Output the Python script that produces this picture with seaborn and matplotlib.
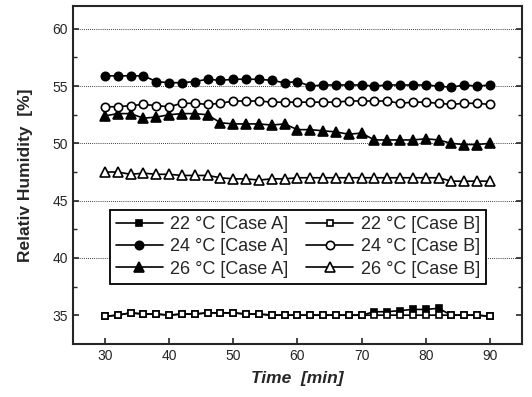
import numpy as np
import pandas as pd
import matplotlib
matplotlib.use("Agg")
import matplotlib.pyplot as plt
import seaborn as sns

# ------------------------
# data
# ------------------------
time_min = list(range(30, 92, 2))

rh_22_a = [34.9, 35.0, 35.2, 35.1, 35.1, 35.0, 35.1, 35.1, 35.2, 35.2, 35.2,
           35.1, 35.1, 35.0, 35.0, 35.0, 35.0, 35.0, 35.0, 35.0, 35.0, 35.3,
           35.3, 35.4, 35.5, 35.5, 35.6, 35.0, 35.0, 35.0, 34.9]
rh_22_b = [34.9, 35.0, 35.2, 35.1, 35.1, 35.0, 35.1, 35.1, 35.2, 35.2, 35.2,
           35.1, 35.1, 35.0, 35.0, 35.0, 35.0, 35.0, 35.0, 35.0, 35.0, 35.0,
           35.0, 35.0, 35.0, 35.0, 35.0, 35.0, 35.0, 35.0, 34.9]
rh_24_a = [55.9, 55.9, 55.9, 55.9, 55.4, 55.3, 55.3, 55.4, 55.6, 55.5, 55.6,
           55.6, 55.6, 55.5, 55.3, 55.4, 55.0, 55.1, 55.1, 55.1, 55.1, 55.0,
           55.1, 55.1, 55.1, 55.1, 55.0, 54.9, 55.1, 55.0, 55.1]
rh_24_b = [53.2, 53.2, 53.3, 53.4, 53.3, 53.2, 53.5, 53.5, 53.4, 53.5, 53.7,
           53.7, 53.7, 53.6, 53.6, 53.6, 53.6, 53.6, 53.6, 53.7, 53.7, 53.7,
           53.7, 53.5, 53.6, 53.6, 53.5, 53.4, 53.5, 53.5, 53.4]
rh_26_a = [52.4, 52.6, 52.6, 52.2, 52.3, 52.5, 52.6, 52.6, 52.5, 51.8, 51.7,
           51.7, 51.7, 51.6, 51.7, 51.2, 51.2, 51.1, 51.0, 50.8, 50.9, 50.3,
           50.3, 50.3, 50.3, 50.4, 50.3, 50.0, 49.9, 49.9, 50.0]
rh_26_b = [47.5, 47.5, 47.3, 47.4, 47.3, 47.3, 47.2, 47.2, 47.2, 47.0, 46.9,
           46.9, 46.8, 46.9, 46.9, 47.0, 47.0, 47.0, 47.0, 47.0, 47.0, 47.0,
           47.0, 47.0, 47.0, 47.0, 47.0, 46.7, 46.7, 46.7, 46.7]

series = [
    ("22 °C [Case A]", rh_22_a, "s", "black", 5),
    ("24 °C [Case A]", rh_24_a, "o", "black", 6),
    ("26 °C [Case A]", rh_26_a, "^", "black", 6.5),
    ("22 °C [Case B]", rh_22_b, "s", "white", 5),
    ("24 °C [Case B]", rh_24_b, "o", "white", 6),
    ("26 °C [Case B]", rh_26_b, "^", "white", 6.5),
]

# ------------------------
# plot
# ------------------------
sns.set_style("ticks")
plt.rcParams['font.family'] = ['Liberation Sans', 'DejaVu Sans']

fig = plt.figure(figsize=(5.32, 3.97), dpi=100)
ax = fig.add_axes([0.137, 0.134, 0.844, 0.851])

for y in [40, 45, 50, 55, 60]:
    ax.axhline(y, color="black", lw=0.6, ls=(0, (1, 1.5)), zorder=0)

for label, vals, mk, fc, ms in series:
    df = pd.DataFrame({"t": time_min, "rh": vals})
    sns.lineplot(data=df, x="t", y="rh", ax=ax, label=label, color="black",
                 lw=0.7, ls=(0, (1, 1)), marker=mk, markersize=ms,
                 markerfacecolor=fc, markeredgecolor="black",
                 markeredgewidth=1.2)

ax.set_xlim(25, 95)
ax.set_ylim(32.5, 62)
ax.set_xticks(range(30, 100, 10))
ax.set_yticks(range(35, 65, 5))
ax.set_yticks(np.arange(35, 62, 2.5), minor=True)
ax.tick_params(direction="in", length=4, width=1.2, labelsize=10)
ax.tick_params(which="minor", direction="in", length=3, width=1, right=True)
ax.tick_params(right=True)
for sp in ax.spines.values():
    sp.set_linewidth(1.5)
    sp.set_visible(True)

ax.set_xlabel("Time  [min]", fontsize=12.5, fontweight="bold", style="italic",
              labelpad=6)
ax.set_ylabel("Relativ Humidity  [%]", fontsize=12.5, fontweight="bold",
              labelpad=14)

handles, labels = ax.get_legend_handles_labels()
for h in handles:
    h.set_linestyle("-")
    h.set_linewidth(1.2)
leg = ax.legend(handles, labels, ncol=2, loc="center",
                bbox_to_anchor=(0.501, 0.287), fontsize=13,
                frameon=True, fancybox=False, framealpha=1, edgecolor="black",
                handlelength=2.6, columnspacing=1.0, labelspacing=0.3,
                borderpad=0.35, handletextpad=0.4, borderaxespad=0)
leg.get_frame().set_linewidth(1.3)

fig.savefig("out.png", dpi=100)
